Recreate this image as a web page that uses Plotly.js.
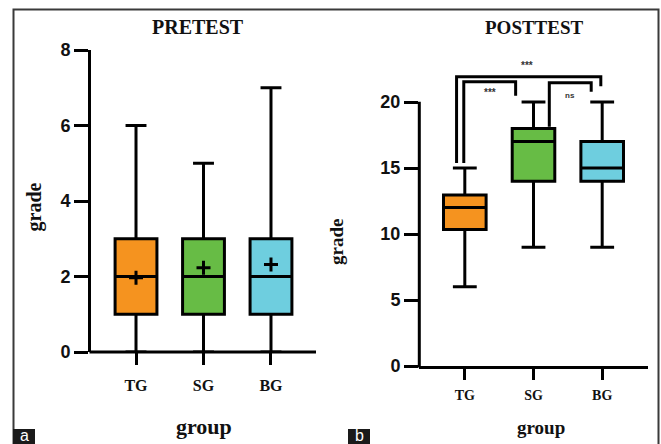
<!DOCTYPE html>
<html>
<head>
<meta charset="utf-8">
<script src="https://cdn.plot.ly/plotly-3.0.1.min.js"></script>
<style>html,body{margin:0;padding:0;background:#fff;}#chart{width:661px;height:444px;}</style>
</head>
<body>
<div id="chart"></div>
<script>
// ---- data ----
var groups = ['TG', 'SG', 'BG'];
var preMin = [0, 0, 0];
var preQ1 = [1, 1, 1];
var preMedian = [2, 2, 2];
var preQ3 = [3, 3, 3];
var preMax = [6, 5, 7];
var preMean = [1.97, 2.23, 2.32];

var postMin = [6, 9, 9];
var postQ1 = [10.35, 14, 14];
var postMedian = [12, 17, 15];
var postQ3 = [12.95, 18, 17];
var postMax = [15, 20, 20];

var preTicks = [0, 2, 4, 6, 8];
var postTicks = [0, 5, 10, 15, 20];

// significance brackets (posttest)
var bracketLeft = [-0.12, -0.015, 1.23];
var bracketRight = [1.98, 0.74, 1.84];
var bracketTop = [21.92, 21.54, 21.46];
var bracketLeftEnd = [15.38, 15.38, 18.13];
var bracketRightEnd = [21.2, 20.48, 20.78];
var sigLabels = ['***', '***', 'ns'];
var sigX = [0.91, 0.36, 1.53];
var sigY = [22.8, 20.75, 20.5];

// ---- styles ----
var colors = ['#F5931F', '#67BC45', '#6ECEDF'];
var W = 661, H = 444;
function px(x) { return x / W; }
function py(y) { return 1 - y / H; }
var serif = 'Liberation Serif';
var sans = 'Liberation Sans';

var traces = [];
groups.forEach(function (g, i) {
  traces.push({
    type: 'box', x: [g], q1: [preQ1[i]], median: [preMedian[i]], q3: [preQ3[i]],
    lowerfence: [preMin[i]], upperfence: [preMax[i]],
    xaxis: 'x', yaxis: 'y', width: 0.62, whiskerwidth: 0.5,
    fillcolor: colors[i], line: { color: '#000', width: 3 },
    boxpoints: false, hoverinfo: 'skip', showlegend: false
  });
  traces.push({
    type: 'box', x: [g], q1: [postQ1[i]], median: [postMedian[i]], q3: [postQ3[i]],
    lowerfence: [postMin[i]], upperfence: [postMax[i]],
    xaxis: 'x2', yaxis: 'y2', width: 0.62, whiskerwidth: 0.56,
    fillcolor: colors[i], line: { color: '#000', width: 3 },
    boxpoints: false, hoverinfo: 'skip', showlegend: false
  });
});
traces.push({
  type: 'scatter', mode: 'markers', x: groups, y: preMean, xaxis: 'x', yaxis: 'y',
  marker: { symbol: 'cross-thin', size: 10, color: '#000', line: { color: '#000', width: 3 } },
  showlegend: false, hoverinfo: 'skip', cliponaxis: false
});

var shapes = [];
// outer frame
shapes.push({ type: 'rect', xref: 'paper', yref: 'paper', x0: px(13.5), x1: px(658.5), y0: py(9.5), y1: py(446),
  line: { color: '#3a3a3a', width: 2 }, fillcolor: 'rgba(0,0,0,0)' });
// left x-axis baseline (covers lower whisker caps at 0)
shapes.push({ type: 'line', xref: 'paper', yref: 'paper', x0: px(89.5), x1: px(316), y0: py(352), y1: py(352),
  line: { color: '#000', width: 3 } });
// right y-axis line (only up to 20)
shapes.push({ type: 'line', xref: 'paper', yref: 'paper', x0: px(419.3), x1: px(419.3), y0: py(367.5), y1: py(101.7),
  line: { color: '#000', width: 3 } });
// panel tags
shapes.push({ type: 'rect', xref: 'paper', yref: 'paper', x0: px(13), x1: px(35), y0: py(429), y1: py(444),
  line: { width: 0 }, fillcolor: '#1a1a1a' });
shapes.push({ type: 'rect', xref: 'paper', yref: 'paper', x0: px(348), x1: px(370), y0: py(429), y1: py(444),
  line: { width: 0 }, fillcolor: '#1a1a1a' });
// brackets
for (var k = 0; k < bracketLeft.length; k++) {
  shapes.push({
    type: 'path', xref: 'x2', yref: 'y2',
    path: 'M ' + bracketLeft[k] + ',' + bracketLeftEnd[k] + ' L ' + bracketLeft[k] + ',' + bracketTop[k] +
      ' L ' + bracketRight[k] + ',' + bracketTop[k] + ' L ' + bracketRight[k] + ',' + bracketRightEnd[k],
    line: { color: '#000', width: 3 }
  });
}

function txt(text, x, y, size, opts) {
  var a = { text: text, xref: 'paper', yref: 'paper', x: px(x), y: py(y), showarrow: false,
    xanchor: 'center', yanchor: 'middle',
    font: { family: serif, size: size, color: '#111', weight: 'bold' } };
  for (var key in (opts || {})) a[key] = opts[key];
  return a;
}
var annotations = [
  txt('PRETEST', 198, 27, 20),
  txt('POSTTEST', 534, 27, 19),
  txt('grade', 33.5, 207, 20, { textangle: -90 }),
  txt('grade', 336.5, 242.5, 19, { textangle: -90 }),
  txt('group', 204, 426, 22),
  txt('group', 541, 427, 19),
  txt('a', 24, 435.5, 16, { font: { family: sans, size: 16, color: '#fff' } }),
  txt('b', 359, 435.5, 16, { font: { family: sans, size: 16, color: '#fff' } })
];
for (var s = 0; s < sigLabels.length; s++) {
  annotations.push({ text: sigLabels[s], xref: 'x2', yref: 'y2', x: sigX[s], y: sigY[s], showarrow: false,
    font: { family: sans, size: sigLabels[s] === 'ns' ? 8 : 10, color: '#333', weight: 'bold' } });
}

var layout = {
  width: W, height: H,
  margin: { l: 0, r: 0, t: 0, b: 0 },
  paper_bgcolor: '#fff', plot_bgcolor: '#fff',
  showlegend: false,
  xaxis: {
    domain: [px(91), px(316)], anchor: 'y', type: 'category', range: [-0.667, 2.667],
    showline: false, showgrid: false, zeroline: false,
    ticks: 'outside', ticklen: 12, tickwidth: 3, tickcolor: '#000',
    tickfont: { family: serif, size: 16, color: '#111', weight: 'bold' }, ticklabelstandoff: 7
  },
  yaxis: {
    domain: [py(352), py(50)], anchor: 'x', range: [0, 8], tickvals: preTicks,
    showline: true, linecolor: '#000', linewidth: 3, showgrid: false, zeroline: false,
    ticks: 'outside', ticklen: 14, tickwidth: 3, tickcolor: '#000',
    tickfont: { family: sans, size: 18, color: '#111', weight: 'bold' }
  },
  xaxis2: {
    domain: [px(419), px(648)], anchor: 'y2', type: 'category', range: [-0.667, 2.667],
    showline: true, linecolor: '#000', linewidth: 3, showgrid: false, zeroline: false,
    ticks: 'outside', ticklen: 11, tickwidth: 3, tickcolor: '#000',
    tickfont: { family: serif, size: 14, color: '#111', weight: 'bold' }, ticklabelstandoff: 3
  },
  yaxis2: {
    domain: [py(366), py(62.4)], anchor: 'x2', range: [0, 23], tickvals: postTicks,
    showline: false, showgrid: false, zeroline: false,
    ticks: 'outside', ticklen: 14, tickwidth: 3, tickcolor: '#000',
    tickfont: { family: sans, size: 18, color: '#111', weight: 'bold' }
  },
  shapes: shapes,
  annotations: annotations
};

Plotly.newPlot('chart', traces, layout, { staticPlot: true, displayModeBar: false });
</script>
</body>
</html>
